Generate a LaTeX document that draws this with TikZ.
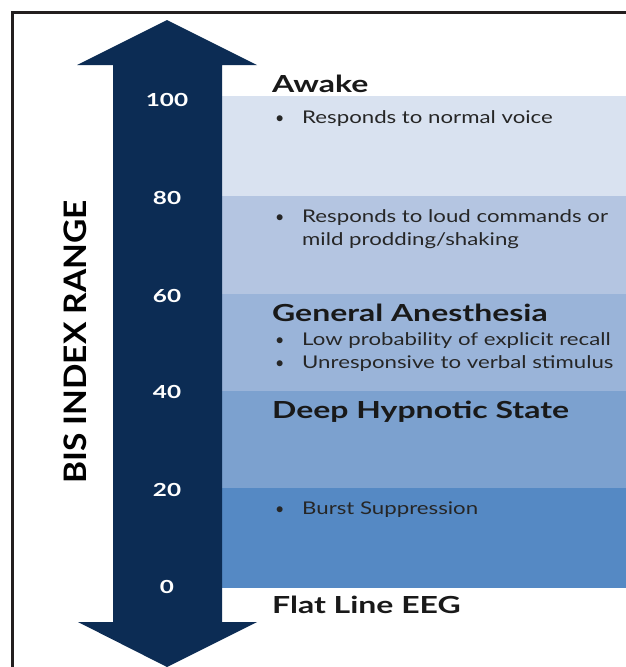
\documentclass[tikz,border=0pt]{standalone}
\usepackage{fontspec}
\setmainfont{Lato}
\definecolor{bisnavy}{HTML}{0C2C54}
\definecolor{bandA}{HTML}{D9E2F0}
\definecolor{bandB}{HTML}{B4C5E1}
\definecolor{bandC}{HTML}{9AB4D9}
\definecolor{bandD}{HTML}{7CA1CF}
\definecolor{bandE}{HTML}{5589C4}
\definecolor{framegray}{HTML}{231F1F}
\newcommand{\wide}[2]{\scalebox{#1}[1]{#2}}
\newcommand{\head}[1]{\wide{1.36}{#1}}
\newcommand{\itm}[1]{\wide{1.27}{#1}}
\tikzset{
  heading/.style={anchor=base west, inner sep=0pt, text=black!90,
    font=\bfseries\fontsize{23.5}{25}\selectfont},
  itemtext/.style={anchor=base west, inner sep=0pt, text=black!85,
    font=\fontsize{17.5}{19}\selectfont},
  dot/.style={anchor=base west, inner sep=0pt, text=black!85,
    font=\fontsize{16}{18}\selectfont},
  scalelabel/.style={inner sep=0pt, text=white,
    font=\bfseries\fontsize{18}{20}\selectfont},
}
\begin{document}
\begin{tikzpicture}[x=1pt, y=-1pt]
  \useasboundingbox (0,0) rectangle (626,667);
  \fill[white] (0,0) rectangle (626,667);
  % bands
  \foreach \ytop/\ybot/\col in {96/196/bandA, 196/294/bandB, 294/391/bandC, 391/488/bandD, 488/588/bandE}
    \fill[\col] (222,\ytop) rectangle (626,\ybot);
  % frame
  \draw[framegray, line width=3pt] (12,667) -- (12,12) -- (626,12);
  % double arrow
  \fill[bisnavy] (167,20) -- (257,65) -- (222,65) -- (222,622) -- (257,622)
    -- (167,667) -- (78,622) -- (113,622) -- (113,65) -- (77,65) -- cycle;
  % scale
  \foreach \v/\y in {100/100, 80/198, 60/296, 40/392, 20/490, 0/587}
    \node[scalelabel] (s\v) at (167,\y) {\wide{1.35}{\v}};
  \node[rotate=90, inner sep=0pt, font=\bfseries\fontsize{31}{33}\selectfont] (title) at (75,342) {\wide{1.08}{BIS INDEX RANGE}};
  % states
  \node[heading] (awake) at (272,92) {\head{Awake}};
  \node[dot] (d1) at (275,123) {•};
  \node[itemtext] (t1) at (302,123) {\itm{Responds to normal voice}};
  \node[dot] (d2) at (275,222) {•};
  \node[itemtext] (t2) at (302,222) {\itm{Responds to loud commands or}};
  \node[itemtext] (t2b) at (302,245) {\itm{mild prodding/shaking}};
  \node[heading] (general) at (272,321) {\head{General Anesthesia}};
  \node[dot] (d3) at (275,345) {•};
  \node[itemtext] (t3) at (302,345) {\itm{Low probability of explicit recall}};
  \node[dot] (d4) at (275,368) {•};
  \node[itemtext] (t4) at (302,368) {\itm{Unresponsive to verbal stimulus}};
  \node[heading] (deep) at (272,418) {\head{Deep Hypnotic State}};
  \node[dot] (d5) at (275,514) {•};
  \node[itemtext] (t5) at (302,514) {\itm{Burst Suppression}};
  \node[heading] (flat) at (272,613) {\head{Flat Line EEG}};
\end{tikzpicture}
\end{document}
